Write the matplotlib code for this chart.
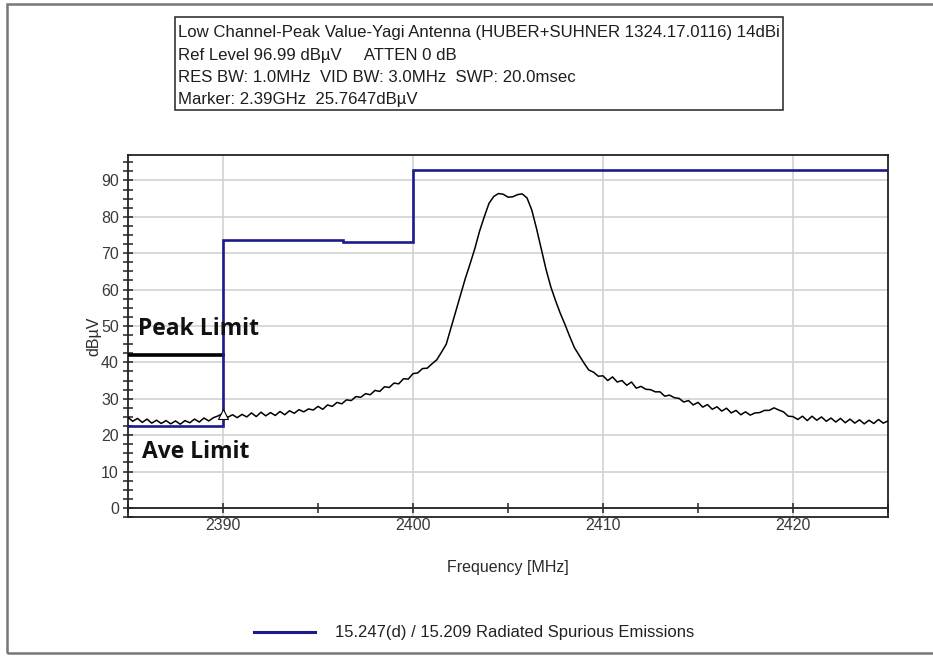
import numpy as np
import matplotlib.pyplot as plt
from matplotlib.patches import Rectangle
from matplotlib.lines import Line2D
from matplotlib.ticker import MultipleLocator

plt.rcParams['font.family'] = ['Liberation Sans', 'DejaVu Sans']

# measured trace, dBuV, one point every 0.25 MHz from 2385 to 2425 MHz
level = [
    24.9, 23.8, 24.6, 23.5, 24.4, 23.3, 24.1, 23.2, 24.0, 23.1,
    23.9, 23.0, 24.0, 23.4, 24.4, 23.6, 24.7, 23.9, 24.8, 25.3,
    26.0, 24.9, 25.6, 24.8, 25.7, 25.0, 26.1, 25.1, 26.3, 25.3,
    26.2, 25.4, 26.5, 25.6, 26.7, 26.0, 27.0, 26.4, 27.2, 26.9,
    27.9, 27.1, 28.3, 27.9, 29.0, 28.6, 29.7, 29.5, 30.6, 30.4,
    31.4, 31.1, 32.3, 32.0, 33.3, 33.1, 34.3, 34.1, 35.5, 35.4,
    36.9, 37.1, 38.3, 38.4, 39.6, 40.7, 42.8, 45.0, 49.5, 53.9,
    58.6, 63.0, 67.0, 71.2, 76.0, 80.0, 83.7, 85.6, 86.4, 86.2,
    85.4, 85.5, 86.1, 86.3, 85.2, 81.9, 76.8, 71.2, 65.6, 60.8,
    57.0, 53.5, 50.4, 47.1, 44.0, 41.9, 39.8, 37.9, 37.3, 36.2,
    36.3,
    35.0, 36.0, 34.6, 35.0, 33.7, 34.6, 32.9, 33.4, 32.6, 32.5, 31.9, 31.9,
    30.7, 31.0, 30.3, 30.1, 29.1, 29.5, 28.3, 29.0, 27.7, 28.4, 27.1, 27.8,
    26.6, 27.4, 26.1, 26.8, 25.6, 26.4, 25.5, 26.1, 26.2, 26.8, 26.8, 27.5,
    26.9, 26.4, 25.2, 25.1, 24.3, 25.2, 24.0, 25.2, 24.1, 25.0, 23.8, 24.7,
    23.6, 24.6, 23.4, 24.4, 23.3, 24.2, 23.1, 24.1, 23.2, 24.3, 23.3, 23.9,
]
freq = np.linspace(2385, 2425, len(level))

# 15.247(d) / 15.209 limit line
limit_edges = [2385, 2390, 2396.3, 2400, 2425]
limit_levels = [22.5, 73.5, 73.0, 93.0]

# peak limit below the restricted band edge
peak_freq = [2385, 2390]
peak_level = [42, 42]

marker_freq = 2390
marker_level = 25.7647

header = [
    'Low Channel-Peak Value-Yagi Antenna (HUBER+SUHNER 1324.17.0116) 14dBi',
    'Ref Level 96.99 dB\u00b5V     ATTEN 0 dB',
    'RES BW: 1.0MHz  VID BW: 3.0MHz  SWP: 20.0msec',
    'Marker: 2.39GHz  25.7647dB\u00b5V',
]

W, H = 933, 656
fig = plt.figure(figsize=(W / 100, H / 100), dpi=100)

# outer frame
fig.patches.append(Rectangle((7 / W, 3 / H), 1.0, 1 - 7 / H, transform=fig.transFigure,
                             fill=False, ec='#777777', lw=1.8, clip_on=False))

# header box
fig.patches.append(Rectangle((175 / W, 1 - 110 / H), 608 / W, 93 / H, transform=fig.transFigure,
                             fill=False, ec='#333333', lw=1.2))
for i, line in enumerate(header):
    fig.text(178 / W, 1 - (33 + 22.3 * i) / H, line, fontsize=12.1, color='#1e1e1e',
             va='center', ha='left')

ax = fig.add_axes([128 / W, 1 - 517 / H, 760 / W, 362 / H])

ax.stairs(limit_levels, limit_edges, baseline=None, color='#1b1b8c', lw=1.9, zorder=4)
ax.plot(freq, level, color='black', lw=1.1, zorder=3)
ax.plot(peak_freq, peak_level, color='black', lw=2.6, zorder=3)
ax.plot(marker_freq, marker_level, marker='^', ms=7, mfc='white', mec='black', mew=0.8, zorder=5)

bold = dict(fontsize=16.5, fontweight='bold', family=['Open Sans', 'DejaVu Sans'],
            va='center', ha='left', color='#111111', zorder=6)
ax.text(2385.55, 49.3, 'Peak Limit', **bold)
ax.text(2385.75, 15.5, 'Ave Limit', **bold)

ax.set_xlim(2385, 2425)
ax.set_ylim(-2.5, 96.99)
ax.xaxis.set_major_locator(MultipleLocator(10))
ax.xaxis.set_minor_locator(MultipleLocator(5))
ax.yaxis.set_major_locator(MultipleLocator(10))
ax.yaxis.set_minor_locator(MultipleLocator(2.5))
ax.grid(True, which='major', color='#d2d2d2', lw=1.2)
ax.set_axisbelow(True)

ax.spines['bottom'].set_position(('data', 0))
for s in ax.spines.values():
    s.set_color('#222222')
    s.set_linewidth(1.3)
# lower edge of the plot frame
ax.plot([0, 1], [0, 0], transform=ax.transAxes, color='#222222', lw=1.3, clip_on=False)

ax.tick_params(axis='both', which='both', direction='inout', length=7, width=1.1,
               color='#222222', labelcolor='#3a3a3a', labelsize=11.5)
ax.tick_params(axis='y', pad=3)
ax.tick_params(axis='x', pad=4)

ax.set_xlabel('Frequency [MHz]', fontsize=11.5, color='#2a2a2a', labelpad=19)
ax.set_ylabel('dB\u00b5V', fontsize=11.5, color='#2a2a2a', labelpad=0)

handle = Line2D([], [], color='#1b1b8c', lw=2.2)
fig.legend(handles=[handle], labels=['15.247(d) / 15.209 Radiated Spurious Emissions'],
           loc='center', bbox_to_anchor=(474 / W, 1 - 633 / H), frameon=False,
           fontsize=12, handlelength=3.65, handletextpad=1.2, labelcolor='#222222')

fig.savefig('out.png', dpi=100)
